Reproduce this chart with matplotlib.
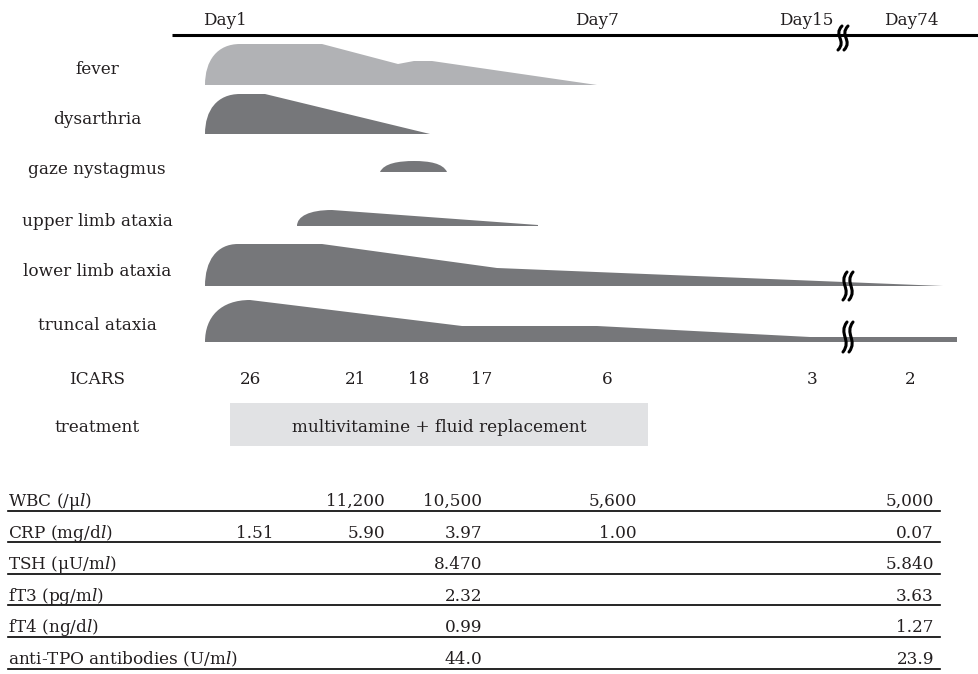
import matplotlib
matplotlib.use("Agg")
import matplotlib.pyplot as plt
from matplotlib.path import Path
from matplotlib.patches import PathPatch, Rectangle

# ---------------------------------------------------------------------------
# data (x = position on the timeline, h = symptom intensity)
# ---------------------------------------------------------------------------

day_labels = ["Day1", "Day7", "Day15", "Day74"]
day_x = [225, 597, 806, 911]

symptoms = ["fever", "dysarthria", "gaze nystagmus", "upper limb ataxia",
            "lower limb ataxia", "truncal ataxia"]
symptom_label_y = [69, 120, 170, 221, 272, 325]
symptom_base = [85, 134, 172, 226, 286, 342]
symptom_onset = [205, 205, 380, 297, 205, 205]
# (x, h) after the rounded onset
fever_pts = [(240, 41), (322, 41), (398, 21), (414, 24), (432, 24), (597, 0)]
dysarthria_pts = [(240, 40), (265, 40), (430, 0)]
nystagmus_pts = [(414, 11), (447, 0)]
upper_limb_pts = [(332, 16), (538, 1), (538, 0)]
lower_limb_pts = [(238, 42), (322, 42), (497, 18), (943, 0)]
truncal_pts = [(250, 42), (462, 16), (597, 16), (810, 5), (957, 5), (957, 0)]
symptom_pts = [fever_pts, dysarthria_pts, nystagmus_pts, upper_limb_pts,
               lower_limb_pts, truncal_pts]

icars_x = [251, 356, 419, 482, 607, 812, 910]
icars_vals = ["26", "21", "18", "17", "6", "3", "2"]

treatment_text = "multivitamine + fluid replacement"
treatment_span = (230, 648)

lab_labels = [r"WBC (/μ$\it{l}$)", r"CRP (mg/d$\it{l}$)", r"TSH (μU/m$\it{l}$)",
              r"fT3 (pg/m$\it{l}$)", r"fT4 (ng/d$\it{l}$)",
              r"anti-TPO antibodies (U/m$\it{l}$)"]
lab_col_x = [274, 385, 482, 637, 934]
lab_values = [
    ["", "11,200", "10,500", "5,600", "5,000"],
    ["1.51", "5.90", "3.97", "1.00", "0.07"],
    ["", "", "8.470", "", "5.840"],
    ["", "", "2.32", "", "3.63"],
    ["", "", "0.99", "", "1.27"],
    ["", "", "44.0", "", "23.9"],
]

# ---------------------------------------------------------------------------
# style
# ---------------------------------------------------------------------------

FONT = "DejaVu Serif"
plt.rcParams["font.family"] = FONT
plt.rcParams["mathtext.fontset"] = "custom"
plt.rcParams["mathtext.rm"] = FONT
plt.rcParams["mathtext.it"] = FONT + ":italic"
plt.rcParams["text.color"] = "#231f20"
FS = 12.2
LIGHT = "#b1b2b5"
DARK = "#76777a"
BOX = "#e1e2e4"


def symptom_path(onset, base, pts):
    """Rounded rise from the onset, then straight segments."""
    x1, h1 = pts[0]
    w = x1 - onset
    verts = [(onset, base), (onset, base - h1 * 0.6), (onset + w * 0.35, base - h1),
             (x1, base - h1)]
    codes = [Path.MOVETO, Path.CURVE4, Path.CURVE4, Path.CURVE4]
    for x, h in pts[1:]:
        verts.append((x, base - h))
        codes.append(Path.LINETO)
    verts.append((onset, base))
    codes.append(Path.CLOSEPOLY)
    return Path(verts, codes)


def nystagmus_path(onset, base, pts):
    (xm, h), (x2, _) = pts
    verts = [(onset, base), (onset + 4, base - h * 0.8), (xm - 15, base - h), (xm, base - h),
             (xm + 15, base - h), (x2 - 4, base - h * 0.8), (x2, base), (onset, base)]
    codes = [Path.MOVETO] + [Path.CURVE4] * 6 + [Path.CLOSEPOLY]
    return Path(verts, codes)


def break_mark(ax, x, y0, h):
    for dx in (0, 6):
        cx = x + dx
        verts = [(cx + 2, y0), (cx - 7, y0 + h * 0.4), (cx + 7, y0 + h * 0.6), (cx - 2, y0 + h)]
        codes = [Path.MOVETO, Path.CURVE4, Path.CURVE4, Path.CURVE4]
        ax.add_patch(PathPatch(Path(verts, codes), fill=False, lw=2.2,
                               edgecolor="black", capstyle="round", zorder=5))


fig = plt.figure(figsize=(9.79, 6.74), dpi=100)
ax = fig.add_axes([0, 0, 1, 1])
ax.set_xlim(0, 979)
ax.set_ylim(674, 0)
ax.axis("off")

# --- timeline ---
ax.plot([172, 979], [35, 35], color="black", lw=2.2, solid_capstyle="butt")
for lab, x in zip(day_labels, day_x):
    ax.text(x, 25, lab, ha="center", va="baseline", fontsize=FS)
break_mark(ax, 840, 26, 24)

# --- symptoms ---
for i, name in enumerate(symptoms):
    base = symptom_base[i]
    ax.text(97, symptom_label_y[i], name, ha="center", va="center", fontsize=FS)
    if name == "gaze nystagmus":
        path = nystagmus_path(symptom_onset[i], base, symptom_pts[i])
    else:
        path = symptom_path(symptom_onset[i], base, symptom_pts[i])
    color = LIGHT if name == "fever" else DARK
    ax.add_patch(PathPatch(path, facecolor=color, edgecolor="none"))

break_mark(ax, 845, 272, 28)
break_mark(ax, 845, 322, 30)

# --- ICARS ---
ax.text(97, 379, "ICARS", ha="center", va="center", fontsize=FS)
for x, v in zip(icars_x, icars_vals):
    ax.text(x, 379, v, ha="center", va="center", fontsize=FS)

# --- treatment ---
ax.text(97, 427, "treatment", ha="center", va="center", fontsize=FS)
x0, x1 = treatment_span
ax.add_patch(Rectangle((x0, 403), x1 - x0, 43, facecolor=BOX, edgecolor="none"))
ax.text((x0 + x1) / 2, 428, treatment_text, ha="center", va="center", fontsize=FS)

# --- lab table ---
row_y = 506
for label, vals in zip(lab_labels, lab_values):
    ax.text(8, row_y, label, ha="left", va="baseline", fontsize=FS)
    for x, v in zip(lab_col_x, vals):
        if v:
            ax.text(x, row_y, v, ha="right", va="baseline", fontsize=FS)
    ax.plot([8, 940], [row_y + 4.5, row_y + 4.5], color="black", lw=1.2)
    row_y += 31.6

fig.savefig("out.png", dpi=100)
